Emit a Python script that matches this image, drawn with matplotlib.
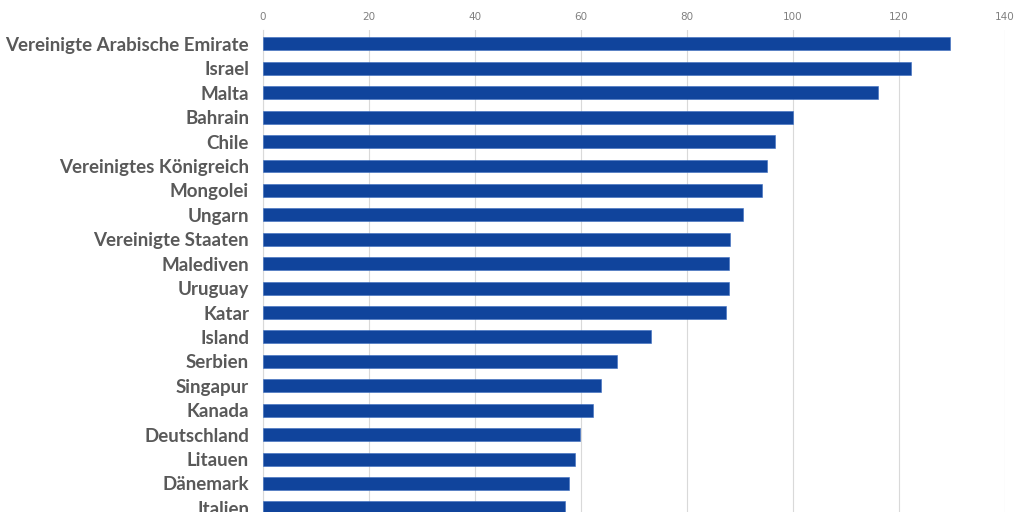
import matplotlib.pyplot as plt

countries = [
    "Vereinigte Arabische Emirate", "Israel", "Malta", "Bahrain", "Chile",
    "Vereinigtes Königreich", "Mongolei", "Ungarn", "Vereinigte Staaten",
    "Malediven", "Uruguay", "Katar", "Island", "Serbien", "Singapur",
    "Kanada", "Deutschland", "Litauen", "Dänemark", "Italien",
]
values = [
    129.6, 122.3, 116.0, 100.0, 96.6,
    95.1, 94.2, 90.6, 88.1,
    87.9, 87.9, 87.4, 73.2, 66.8, 63.8,
    62.3, 59.8, 58.9, 57.7, 57.0,
]
ticks = [0, 20, 40, 60, 80, 100, 120, 140]

fig = plt.figure(figsize=(10.24, 5.12), dpi=100)
fig.patch.set_facecolor("white")

# axes run past the bottom edge, the source image is cropped
ax = fig.add_axes([263 / 1024, -13 / 512, (1005 - 263) / 1024, 495 / 512])

pos = list(range(len(countries)))
ax.barh(pos, values, height=0.53, color="#10449c", edgecolor="#3a6cc0", linewidth=0.4, zorder=3)

ax.set_xlim(0, 140)
ax.set_ylim(19.7, -0.57)
ax.set_xticks(ticks)
ax.xaxis.tick_top()
ax.tick_params(axis="x", length=0, pad=6, labelsize=7.5, labelcolor="#808080")
ax.set_xticklabels([str(t) for t in ticks], family="Liberation Sans Narrow")

ax.set_yticks(pos)
ax.set_yticklabels(countries, family="Lato", fontweight="bold", fontsize=13.5, color="#595959")
ax.tick_params(axis="y", length=0, pad=10)

ax.grid(True, axis="x", color="#d9d9d9", linewidth=0.8, zorder=0)
for side in ["top", "right", "bottom"]:
    ax.spines[side].set_visible(False)
ax.spines["left"].set_color("#d9d9d9")
ax.spines["left"].set_linewidth(0.8)

plt.savefig("out.png", dpi=100)
